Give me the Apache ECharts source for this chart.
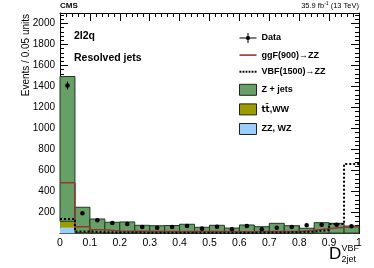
<!DOCTYPE html>
<html><head><meta charset="utf-8">
<script src="https://cdn.jsdelivr.net/npm/echarts@6/dist/echarts.min.js"></script>
<style>html,body{margin:0;padding:0;background:#fff}#c{width:374px;height:268px}</style>
</head><body><div id="c"></div>
<script>
// bin lower edges (width 0.05)
const binEdges = [0,0.05,0.1,0.15,0.2,0.25,0.3,0.35,0.4,0.45,0.5,0.55,0.6,0.65,0.7,0.75,0.8,0.85,0.9,0.95];
const binWidth = 0.05;
// stacked MC components
const zzwz   = [55,3,2,2,2,2,2,2,2,1,2,1,2,1,2,2,1,2,2,2];
const ttww   = [61,5,3,2,2,2,2,2,2,1,2,1,2,1,2,2,1,2,2,2];
const zjets  = [1379,242,133,103,106,74,70,72,84,57,74,50,77,63,93,70,48,99,93,67];
// data
const dataVals = [1409,193,126,100,91,62,55,62,71,46,65,40,71,40,55,62,78,84,84,69];
// signals
const ggfVals = [484,65,36,24,22,21,20,19,19,18,18,17,17,18,18,20,30,46,59,65];
const vbfVals = [138,19,12,10,9,8,8,8,8,8,8,8,8,9,10,12,18,33,90,663];
// axis tick labels
const xTickLabels = ['0','0.1','0.2','0.3','0.4','0.5','0.6','0.7','0.8','0.9','1'];
const yTickLabels = ['200','400','600','800','1000','1200','1400','1600','1800','2000'];

const FONT = 'Liberation Sans, Arial, Helvetica, sans-serif';
const TTNAME = 't\u0074\u0304,WW';

function stackData(vals, bases){
  return vals.map((v,i)=>[binEdges[i], binEdges[i]+binWidth, bases[i], bases[i]+v]);
}
const base0 = zzwz.map(()=>0);
const base1 = zzwz.slice();
const base2 = zzwz.map((v,i)=>v+ttww[i]);

function rectItem(params, api){
  const p0 = api.coord([api.value(0), api.value(3)]);
  const p1 = api.coord([api.value(1), api.value(2)]);
  return {type:'rect', shape:{x:p0[0], y:p0[1], width:p1[0]-p0[0], height:p1[1]-p0[1]},
    style: api.style()};
}
function stepData(vals){
  const d = vals.map((v,i)=>[binEdges[i], v]);
  d.push([1, vals[vals.length-1]]);
  return d;
}
const dataPts = dataVals.map((v,i)=>[binEdges[i]+binWidth/2, v, Math.sqrt(v)]);

let dotPath = 'path://';
for (let i=0;i<6;i++){ const x=i*3; dotPath += 'M'+x+',4.5H'+(x+1.8)+'V6.5H'+x+'Z '; }

const chart = echarts.init(document.getElementById('c'), null, {renderer:'canvas'});
const tickCommon = {
  axisLine:{show:true, onZero:false, lineStyle:{color:'#000', width:1}},
  axisTick:{show:true, inside:true, length:8, lineStyle:{color:'#000'}},
  minorTick:{show:true, splitNumber:5, length:4, lineStyle:{color:'#000'}},
  splitLine:{show:false}, minorSplitLine:{show:false}
};
const txt = (size, bold)=>({fontFamily:FONT, fontSize:size, fontWeight: bold?'bold':'normal', color:'#000'});
chart.setOption({
  animation:false,
  backgroundColor:'#fff',
  textStyle:{fontFamily:FONT},
  grid:{left:60, right:15, top:13, bottom:34.5, containLabel:false},
  title:[
    {text:'CMS', left:60, top:1.5, padding:0, textStyle:txt(8,true)},
    {text:'{a|35.9 fb}{s|-1}{a| (13 TeV)}', right:15, top:1.5, padding:0,
      textStyle:Object.assign(txt(7.5,false), {rich:{a:txt(7.5,false), s:Object.assign(txt(5,false), {verticalAlign:'top', padding:[0,0,4,0]})}})},
    {text:'2l2q', left:74, top:31, padding:0, textStyle:txt(10.5,true)},
    {text:'Resolved jets', left:74, top:53, padding:0, textStyle:txt(10.5,true)}
  ],
  graphic:[
    {type:'text', x:329, y:254, style:{text:'D', font:'17px '+FONT, fill:'#000', verticalAlign:'middle'}},
    {type:'text', x:341.5, y:248.5, style:{text:'VBF', font:'9px '+FONT, fill:'#000', verticalAlign:'middle'}},
    {type:'text', x:341.5, y:259.5, style:{text:'2jet', font:'9px '+FONT, fill:'#000', verticalAlign:'middle'}},
    {type:'text', x:26, y:14, rotation:Math.PI/2,
      style:{text:'Events / 0.05 units', font:'10px '+FONT, fill:'#000', align:'right', verticalAlign:'middle'}}
  ],
  legend:{
    orient:'vertical', left:239, top:33, itemWidth:17, itemHeight:11, itemGap:7.6, padding:0,
    textStyle:Object.assign(txt(9,true), {rich:{
      n:txt(9,true),
      m:{fontFamily:'DejaVu Sans', fontSize:8.5, fontWeight:'bold', color:'#000'}
    }}),
    formatter:(name)=> name===TTNAME ? '{m|t\u0074\u0304}{n|,WW}' : '{n|'+name+'}',
    data:[
      {name:'Data', icon:'path://M0,5H17V6H0Z M8,0.5H9V10.5H8Z M6.8,3.8H10.2V7.2H6.8Z', itemStyle:{color:'#000'}},
      {name:'ggF(900)\u2192ZZ', icon:'path://M0,4.7H17V6.3H0Z', itemStyle:{color:'#993333'}},
      {name:'VBF(1500)\u2192ZZ', icon:dotPath, itemStyle:{color:'#000'}},
      {name:'Z + jets', icon:'rect', itemStyle:{color:'#66a066', borderColor:'#222', borderWidth:1}},
      {name:TTNAME, icon:'rect', itemStyle:{color:'#9c9c00', borderColor:'#222', borderWidth:1}},
      {name:'ZZ, WZ', icon:'rect', itemStyle:{color:'#99ccff', borderColor:'#222', borderWidth:1}}
    ]
  },
  xAxis:[
    Object.assign({type:'value', min:0, max:1, interval:0.1, position:'bottom',
      axisLabel:{fontFamily:FONT, fontSize:10.5, color:'#000', margin:4,
        formatter:(v)=>xTickLabels[Math.round(v*10)]}}, tickCommon),
    Object.assign({type:'value', min:0, max:1, interval:0.1, position:'top', axisLabel:{show:false}}, tickCommon)
  ],
  yAxis:[
    Object.assign({type:'value', min:0, max:2100, interval:200, position:'left',
      axisLabel:{fontFamily:FONT, fontSize:10, color:'#000', margin:5, showMinLabel:false,
        formatter:(v)=> v===0 ? '' : (yTickLabels[Math.round(v/200)-1] || '')}}, tickCommon),
    Object.assign({type:'value', min:0, max:2100, interval:200, position:'right', axisLabel:{show:false}}, tickCommon)
  ],
  series:[
    {name:'ZZ, WZ', type:'custom', renderItem:rectItem, data:stackData(zzwz, base0),
      itemStyle:{color:'#99ccff'}, encode:{x:[0,1], y:[2,3]}, z:2},
    {name:TTNAME, type:'custom', renderItem:rectItem, data:stackData(ttww, base1),
      itemStyle:{color:'#9c9c00'}, encode:{x:[0,1], y:[2,3]}, z:2},
    {name:'Z + jets', type:'custom', renderItem:rectItem, data:stackData(zjets, base2),
      itemStyle:{color:'#66a066', borderColor:'#1e3a1e', borderWidth:1}, encode:{x:[0,1], y:[2,3]}, z:2},
    {name:'ggF(900)\u2192ZZ', type:'line', step:'end', data:stepData(ggfVals), symbol:'none',
      lineStyle:{color:'#993333', width:1.5}, itemStyle:{color:'#993333'}, z:4},
    {name:'VBF(1500)\u2192ZZ', type:'line', step:'end', data:stepData(vbfVals), symbol:'none',
      lineStyle:{color:'#000', width:2, type:[2,2]}, itemStyle:{color:'#000'}, z:4},
    {name:'Data', type:'custom', data:dataPts, encode:{x:0, y:1}, z:6,
      itemStyle:{color:'#000'},
      renderItem:(params, api)=>{
        const x = api.value(0), v = api.value(1), e = api.value(2);
        const p = api.coord([x, v]);
        const lo = api.coord([x, v-e]);
        const hi = api.coord([x, v+e]);
        return {type:'group', children:[
          {type:'line', shape:{x1:lo[0], y1:lo[1], x2:hi[0], y2:hi[1]}, style:{stroke:'#000', lineWidth:1}},
          {type:'circle', shape:{cx:p[0], cy:p[1], r:2.3}, style:{fill:'#000'}}
        ]};
      }}
  ]
});
</script></body></html>
